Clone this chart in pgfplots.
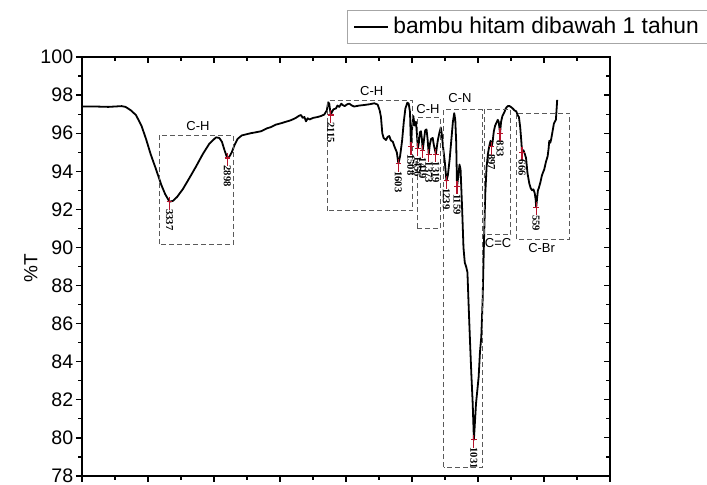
\documentclass[border=0pt]{standalone}
\usepackage{fontspec}
\setmainfont{Liberation Sans}
\newfontfamily\peakfont{Liberation Serif}
\usepackage{pgfplots}
\usepackage{pgfplotstable}
\pgfplotsset{compat=1.18}

\definecolor{peakred}{HTML}{B5132B}
\definecolor{boxgray}{HTML}{5A5A5A}

% short red marker at a band: vertical stroke plus a small bar
\pgfdeclareplotmark{peak}{%
  \pgfpathmoveto{\pgfqpoint{0pt}{2.5pt}}%
  \pgfpathlineto{\pgfqpoint{0pt}{-4pt}}%
  \pgfpathmoveto{\pgfqpoint{-1.4pt}{0pt}}%
  \pgfpathlineto{\pgfqpoint{1.4pt}{0pt}}%
  \pgfusepathqstroke}

\pgfplotstableread{
wn T
4000 97.40
3900 97.40
3800 97.38
3750 97.40
3700 97.42
3670 97.38
3630 97.20
3591 96.95
3550 96.40
3515 95.70
3480 94.90
3439 94.10
3400 93.30
3370 92.80
3337 92.40
3310 92.45
3280 92.65
3237 93.05
3190 93.60
3136 94.25
3085 94.90
3035 95.45
2985 95.78
2960 95.75
2940 95.55
2920 95.10
2905 94.80
2898 94.70
2885 94.75
2865 95.00
2846 95.35
2821 95.70
2790 95.88
2750 95.95
2720 96.00
2680 96.05
2644 96.10
2600 96.25
2568 96.32
2530 96.45
2492 96.52
2455 96.60
2417 96.68
2380 96.80
2354 96.92
2340 96.95
2328 96.80
2315 96.85
2303 96.62
2290 96.78
2275 96.72
2250 96.80
2214 96.85
2190 96.90
2164 96.98
2145 97.20
2135 97.62
2127 97.55
2120 97.20
2115 96.95
2108 97.10
2095 97.25
2076 97.30
2065 97.45
2051 97.38
2035 97.55
2025 97.48
2010 97.42
1990 97.52
1975 97.55
1955 97.45
1937 97.40
1900 97.45
1861 97.48
1820 97.52
1785 97.57
1760 97.50
1745 97.20
1735 96.85
1725 96.00
1715 95.75
1697 95.64
1685 95.80
1672 95.85
1660 95.62
1645 95.55
1633 95.30
1615 95.00
1603 94.40
1590 94.80
1575 95.60
1562 96.60
1550 97.30
1535 97.60
1525 97.55
1515 97.10
1508 95.30
1500 96.20
1490 96.90
1480 96.40
1470 96.60
1462 95.90
1456 95.20
1448 95.50
1440 96.05
1432 96.10
1425 95.70
1419 95.10
1410 95.60
1400 96.15
1390 96.20
1382 95.70
1373 94.90
1365 95.40
1355 95.70
1343 95.75
1335 95.40
1319 94.90
1305 95.60
1293 96.00
1282 96.30
1275 96.00
1265 95.30
1250 94.40
1239 93.50
1228 93.80
1215 94.60
1200 95.80
1190 96.60
1180 97.05
1172 96.70
1165 95.50
1159 93.20
1150 93.70
1140 94.35
1132 94.10
1120 92.00
1110 90.00
1100 89.20
1090 89.00
1080 88.70
1070 86.80
1060 85.00
1050 83.30
1040 81.80
1031 79.90
1025 80.60
1015 81.80
1005 82.50
995 83.20
985 84.50
975 85.30
965 87.20
955 90.20
945 92.80
935 94.20
925 94.90
915 95.30
905 95.60
897 95.30
890 95.50
880 96.10
870 96.40
860 96.55
850 96.70
843 96.60
833 96.00
825 96.60
815 96.90
800 97.10
790 97.30
775 97.42
760 97.42
745 97.35
730 97.25
725 97.20
710 97.15
700 96.95
690 96.85
680 96.30
672 95.60
666 95.00
655 95.10
645 94.90
636 94.70
625 93.90
611 93.35
600 93.10
590 93.00
580 93.05
570 92.85
563 92.50
559 92.10
552 92.60
546 93.00
540 93.10
528 93.40
515 93.80
498 94.10
485 94.50
472 94.80
465 95.20
460 95.60
452 95.50
445 95.70
435 96.10
425 96.50
418 96.60
410 96.70
405 97.20
400 97.75
}\spectrum

\pgfplotstableread{
wn T label
3337 92.40 3337
2898 94.70 2898
2115 96.95 2115
1603 94.40 1603
1508 95.30 1508
1456 95.20 1456
1419 95.10 1419
1373 94.90 1373
1319 94.90 1319
1239 93.50 1239
1159 93.20 1159
1031 79.90 1031
897 95.30 897
833 96.00 833
666 95.00 666
559 92.10 559
}\peaks

\pgfplotsset{
  irframe/.style={
    at={(41pt,4.5pt)}, anchor=south west,
    scale only axis, width=264pt, height=209.5pt,
    x dir=reverse, xmin=0, xmax=4000, ymin=78, ymax=100,
    xtick={0,500,...,4000}, ytick={78,80,...,100},
    minor x tick num=1, minor y tick num=1,
    major tick length=3pt, minor tick length=1.8pt,
    axis line style={line width=0.6pt},
    every tick/.style={black, line width=0.6pt},
    xticklabels={},
  },
}

\begin{document}
\begin{tikzpicture}
\useasboundingbox (0,0) rectangle (353.5pt,242.5pt);

% ticks on top and right point inwards
\begin{axis}[irframe,
  xtick pos=right, ytick pos=right, tick align=inside,
  yticklabels={},
]
\end{axis}

\begin{axis}[irframe,
  xtick pos=left, ytick pos=left, tick align=outside,
  /pgf/number format/assume math mode=true,
  yticklabel style={font=\fontsize{9.8}{10}\selectfont, inner xsep=1.2pt},
  ylabel={\%T},
  ylabel style={at={(axis description cs:-0.097,0.495)}, anchor=center,
    font=\fontsize{9.5}{10}\selectfont},
  legend style={at={(axis description cs:1.188,1.113)}, anchor=north east,
    draw=gray!70, line width=0.4pt, font=\fontsize{11.4}{12}\selectfont,
    inner xsep=3pt, inner ysep=1.5pt},
  legend cell align=left,
  clip=false,
]
\addplot[black, line width=0.9pt, line join=round] table[x=wn, y=T] {\spectrum};
\addlegendentry{bambu hitam dibawah 1 tahun}

\addplot[forget plot, only marks, mark=peak, peakred, line width=0.6pt,
  nodes near coords, point meta=explicit symbolic,
  every node near coord/.append style={black, rotate=-90, anchor=west,
    inner sep=0pt, inner xsep=3.5pt,
    font=\peakfont\bfseries\fontsize{5.3}{6}\selectfont}]
  table[x=wn, y=T, meta=label] {\peaks};

% band assignment boxes
\tikzset{bandbox/.style={boxgray, line width=0.5pt, dash pattern=on 2.5pt off 1.5pt}}
\draw[bandbox] (3414,90.18) rectangle (2851,95.90);
\draw[bandbox] (2139,91.93) rectangle (1495,97.71);
\draw[bandbox] (1462,91.00) rectangle (1286,96.83);
\draw[bandbox] (1261,78.47) rectangle (965,97.22);
\draw[bandbox] (952,90.69) rectangle (750,97.25);
\draw[bandbox] (712,90.43) rectangle (303,97.04);

\tikzset{bandlabel/.style={font=\fontsize{6.5}{7}\selectfont, inner sep=0pt}}
\node[bandlabel] at (3121,96.40) {C-H};
\node[bandlabel] at (1805,98.20) {C-H};
\node[bandlabel] at (1379,97.25) {C-H};
\node[bandlabel] at (1136,97.85) {C-N};
\node[bandlabel] at (848,90.25) {C=C};
\node[bandlabel] at (518,89.95) {C-Br};
\end{axis}
\end{tikzpicture}
\end{document}
